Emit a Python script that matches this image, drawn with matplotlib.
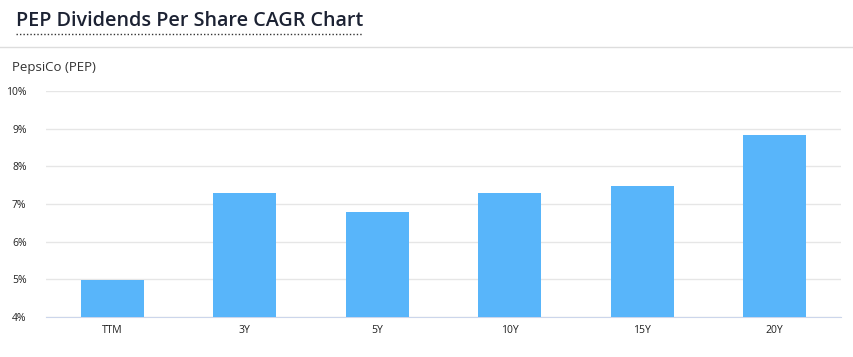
import matplotlib
matplotlib.use("Agg")
import matplotlib.pyplot as plt
from matplotlib.lines import Line2D
from matplotlib.ticker import FuncFormatter

categories = ["TTM", "3Y", "5Y", "10Y", "15Y", "20Y"]
cagr = [4.97, 7.29, 6.80, 7.29, 7.48, 8.84]
yticks = [4, 5, 6, 7, 8, 9, 10]

plt.rcParams['font.family'] = ['Open Sans', 'DejaVu Sans']

W, H = 854, 357
fig = plt.figure(figsize=(W / 100, H / 100), dpi=100)
fig.patch.set_facecolor("white")

# Title
t = fig.text(16 / W, 1 - 21 / H, "PEP Dividends Per Share CAGR Chart", fontsize=14.2,
             fontweight="semibold", color="#1c2233", ha="left", va="center")
fig.add_artist(Line2D([16 / W, 362 / W], [1 - 34 / H, 1 - 34 / H], color="#333333",
                      linewidth=1, linestyle=(0, (1, 1.5)), transform=fig.transFigure))
fig.add_artist(Line2D([0, 1], [1 - 47 / H, 1 - 47 / H], color="#dddddd",
                      linewidth=1, transform=fig.transFigure))
fig.text(12 / W, 1 - 68 / H, "PepsiCo (PEP)", fontsize=9.5, color="#333333",
         ha="left", va="center")

ax = fig.add_axes([46 / W, 1 - 317 / H, (841 - 46) / W, (317 - 91) / H])
x = range(len(categories))
ax.bar(x, [v - yticks[0] for v in cagr], bottom=yticks[0], width=0.475,
       color="#58b5fa", zorder=3)
ax.set_xlim(-0.5, len(categories) - 0.5)
ax.set_ylim(yticks[0], yticks[-1])
ax.set_yticks(yticks)
ax.yaxis.set_major_formatter(FuncFormatter(lambda v, p: f"{v:.0f}%"))
ax.set_xticks(list(x))
ax.set_xticklabels(categories)
ax.grid(axis="y", color="#e6e6e6", linewidth=1, zorder=0)
for s in ["top", "right", "left"]:
    ax.spines[s].set_visible(False)
ax.spines["bottom"].set_color("#ccd6eb")
ax.tick_params(axis="both", length=0, labelsize=7.5, colors="#222222")
ax.tick_params(axis="y", pad=14)
ax.tick_params(axis="x", pad=6)
for lab in ax.get_yticklabels():
    lab.set_horizontalalignment("right")

fig.savefig("out.png", dpi=100, facecolor="white")
